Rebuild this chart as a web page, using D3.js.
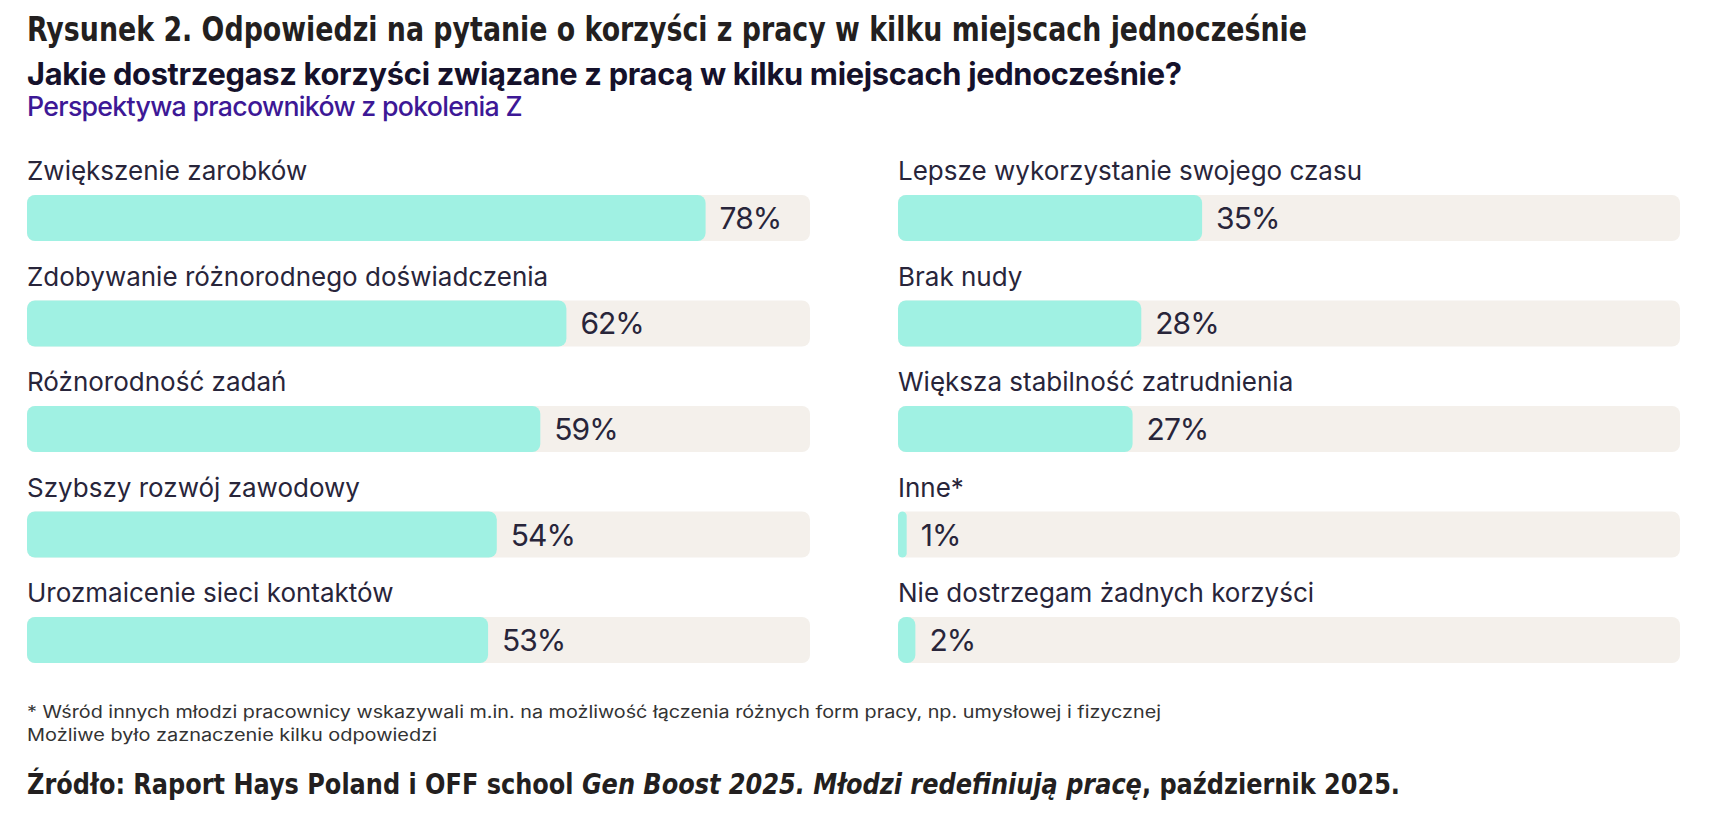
<!DOCTYPE html>
<html>
<head>
<meta charset="utf-8">
<script src="https://cdn.jsdelivr.net/npm/d3@7"></script>
<style>
  body { margin: 0; background: #fff; }
  svg { display: block; }
</style>
</head>
<body>
<div id="chart"></div>
<script>
var svgWidth = 1713;
var svgHeight = 840;

// data
var leftCategories = ["Zwiększenie zarobków", "Zdobywanie różnorodnego doświadczenia", "Różnorodność zadań", "Szybszy rozwój zawodowy", "Urozmaicenie sieci kontaktów"];
var leftValues = [78, 62, 59, 54, 53];
var rightCategories = ["Lepsze wykorzystanie swojego czasu", "Brak nudy", "Większa stabilność zatrudnienia", "Inne*", "Nie dostrzegam żadnych korzyści"];
var rightValues = [35, 28, 27, 1, 2];
var axisMax = 90;

var figureTitle = "Rysunek 2. Odpowiedzi na pytanie o korzyści z pracy w kilku miejscach jednocześnie";
var chartTitle = "Jakie dostrzegasz korzyści związane z pracą w kilku miejscach jednocześnie?";
var chartSubtitle = "Perspektywa pracowników z pokolenia Z";
var footnotes = ["* Wśród innych młodzi pracownicy wskazywali m.in. na możliwość łączenia różnych form pracy, np. umysłowej i fizycznej",
  "Możliwe było zaznaczenie kilku odpowiedzi"];
var sourceParts = [
  { text: "Źródło: Raport Hays Poland i OFF school ", italic: false },
  { text: "Gen Boost 2025. Młodzi redefiniują pracę", italic: true },
  { text: ", październik 2025.", italic: false }
];

var condensed = "'Liberation Sans Narrow', 'DejaVu Sans Condensed', 'Roboto', sans-serif";
var sans = "Inter, 'Noto Sans', sans-serif";

var svg = d3.select("#chart")
  .append("svg")
  .attr("width", svgWidth)
  .attr("height", svgHeight);

// scale a text's font size so it spans the wanted width
function fitWidth(sel, w) {
  var fs = +sel.attr("font-size");
  var len = sel.node().getComputedTextLength();
  sel.attr("font-size", fs * w / len);
}

// headings
svg.append("text")
  .attr("x", 27).attr("y", 41)
  .attr("font-family", condensed)
  .attr("font-weight", 700)
  .attr("font-size", 34)
  .attr("fill", "#231f20")
  .attr("textLength", 1280)
  .attr("lengthAdjust", "spacingAndGlyphs")
  .text(figureTitle);

var h2 = svg.append("text")
  .attr("x", 27).attr("y", 85)
  .attr("font-family", sans)
  .attr("font-weight", 700)
  .attr("font-size", 25)
  .attr("fill", "#15112b")
  .attr("letter-spacing", -0.3)
  .text(chartTitle);
fitWidth(h2, 1150);

var sub = svg.append("text")
  .attr("x", 27).attr("y", 116)
  .attr("font-family", sans)
  .attr("font-weight", 500)
  .attr("font-size", 21)
  .attr("fill", "#3d1896")
  .attr("letter-spacing", -0.7)
  .text(chartSubtitle);
fitWidth(sub, 488);

function drawColumn(cats, vals, left, colWidth) {
  var x = d3.scaleLinear().domain([0, axisMax]).range([0, colWidth]);
  var y = d3.scaleBand().domain(cats).range([195, 663]).paddingInner(0.564).paddingOuter(0);

  var g = svg.append("g").attr("transform", `translate(${left}, 0)`);
  var rows = g.selectAll("g.row")
    .data(cats.map((c, i) => ({ cat: c, val: vals[i] })))
    .enter()
    .append("g")
    .attr("class", "row");

  rows.append("rect")
    .attr("x", 0)
    .attr("y", d => y(d.cat))
    .attr("width", x(axisMax))
    .attr("height", y.bandwidth())
    .attr("rx", 8)
    .attr("fill", "#f4f0eb");

  rows.append("rect")
    .attr("x", 0)
    .attr("y", d => y(d.cat))
    .attr("width", d => x(d.val))
    .attr("height", y.bandwidth())
    .attr("rx", d => Math.min(8, x(d.val) / 2))
    .attr("fill", "#a0f1e3");

  rows.append("text")
    .attr("x", 0)
    .attr("y", d => y(d.cat) - 15)
    .attr("font-family", sans)
    .attr("font-size", 26)
    .attr("fill", "#28253a")
    .text(d => d.cat);

  rows.append("text")
    .attr("x", d => x(d.val) + 14)
    .attr("y", d => y(d.cat) + y.bandwidth() / 2 + 11)
    .attr("font-family", sans)
    .attr("font-size", 30)
    .attr("fill", "#28253a")
    .attr("letter-spacing", -1)
    .text(d => d.val + "%");
}

drawColumn(leftCategories, leftValues, 27, 783);
drawColumn(rightCategories, rightValues, 898, 782);

// footnotes
svg.selectAll("text.foot")
  .data(footnotes)
  .enter()
  .append("text")
  .attr("class", "foot")
  .attr("x", 27)
  .attr("y", (d, i) => 718 + i * 23)
  .attr("font-family", sans)
  .attr("font-size", 17)
  .attr("fill", "#333")
  .attr("textLength", (d, i) => i == 0 ? 1134 : 410)
  .attr("lengthAdjust", "spacingAndGlyphs")
  .text(d => d);

var src = svg.append("text")
  .attr("x", 27).attr("y", 794)
  .attr("font-family", condensed)
  .attr("font-weight", 700)
  .attr("font-size", 29)
  .attr("fill", "#231f20")
  .attr("textLength", 1373)
  .attr("lengthAdjust", "spacingAndGlyphs");

src.selectAll("tspan")
  .data(sourceParts)
  .enter()
  .append("tspan")
  .attr("font-style", d => d.italic ? "italic" : "normal")
  .text(d => d.text);
</script>
</body>
</html>
